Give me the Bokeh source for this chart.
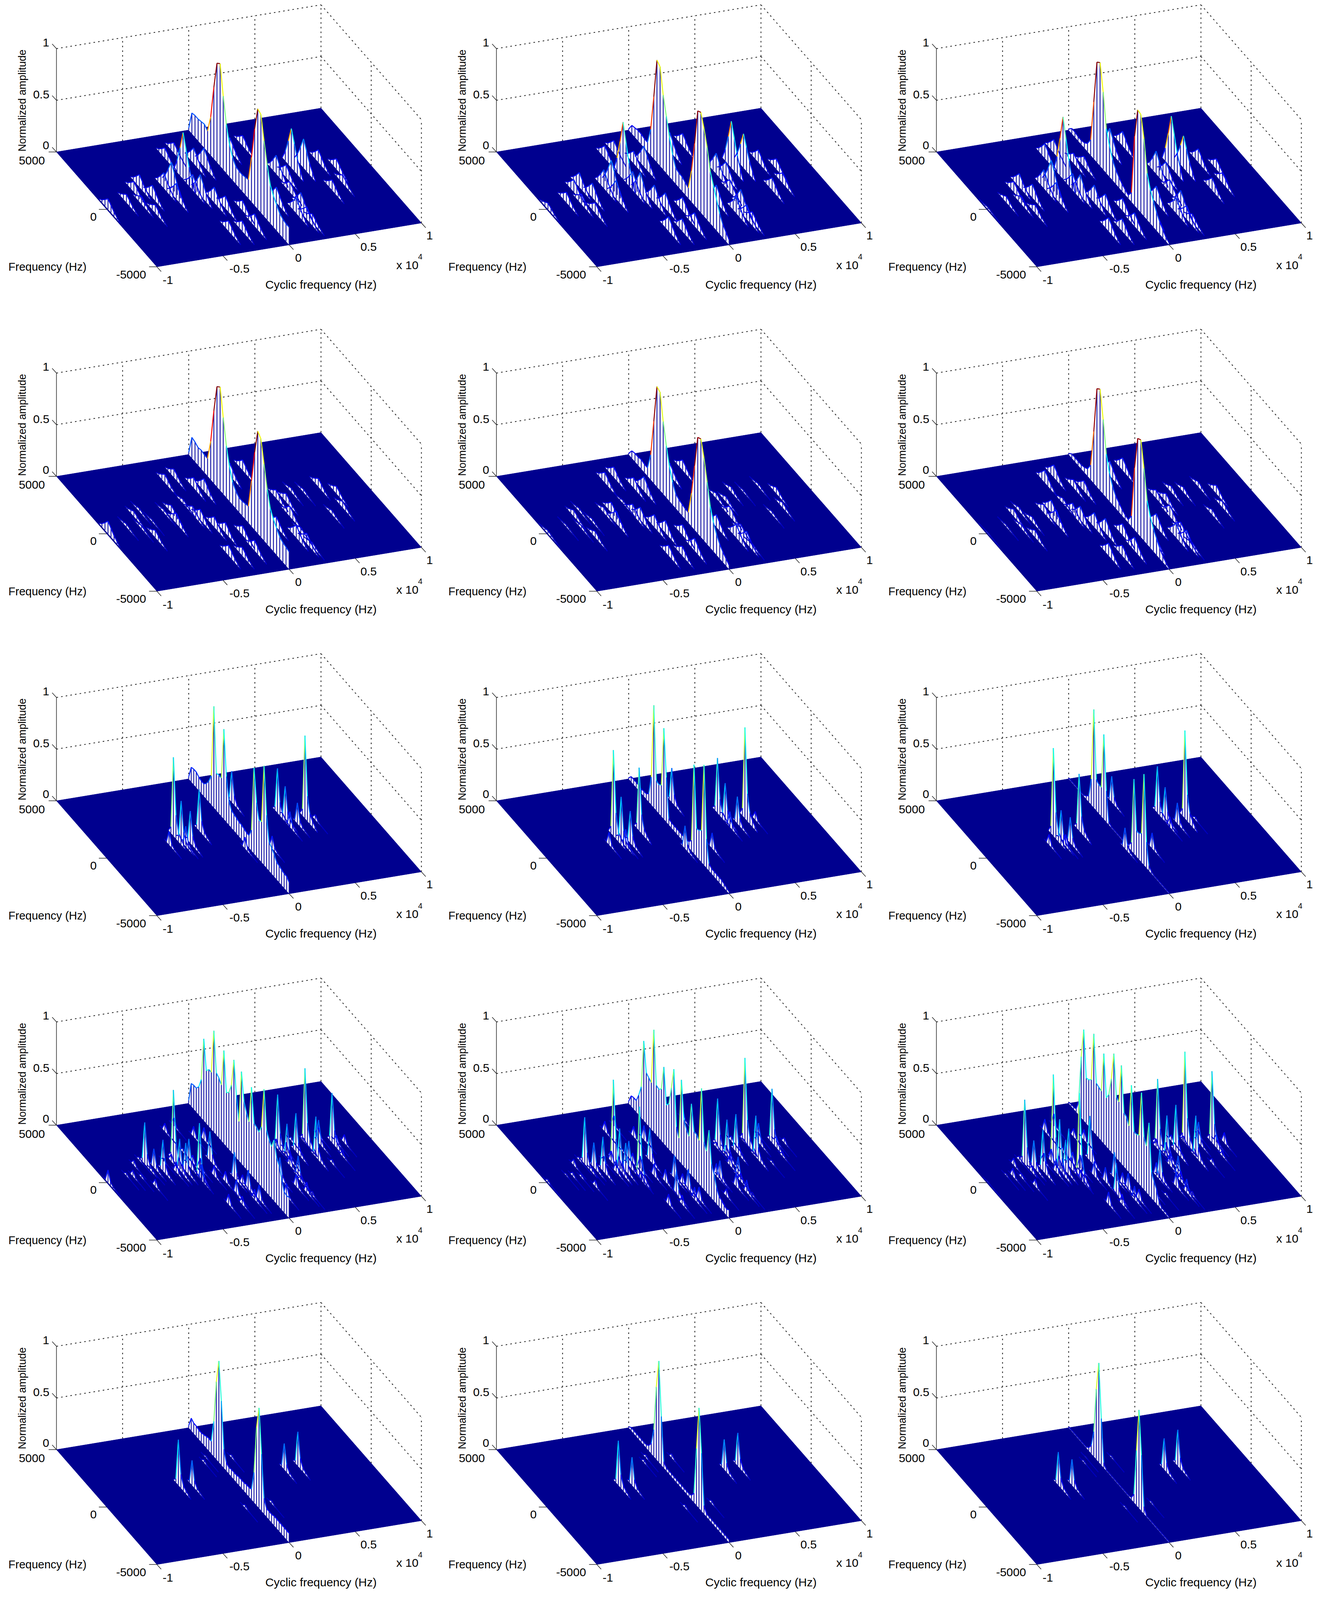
import numpy as np

from bokeh.core.properties import value
from bokeh.embed import file_html
from bokeh.models import Range1d
from bokeh.plotting import figure
from bokeh.resources import INLINE

# tick labels
z_ticks = [0, 0.5, 1]
z_labels = ["0", "0.5", "1"]
f_ticks = [5000, 0, -5000]
f_labels = ["5000", "0", "-5000"]
alpha_ticks = [-1, -0.5, 0, 0.5, 1]
alpha_labels = ["-1", "-0.5", "0", "0.5", "1"]

# amplitude along the alpha = 0 ridge, from f = 5000 down to f = -5000
ridge_r0c0 = [.02,.2,.21,.21,.22,.23,.2,.37,.69,.96,.99,.71,.47,.31,.22,.17,.16,.16,.17,.18,.43,.74,.97,.95,.73,.53,.37,.3,.25,.2,.18,.17,.17]
ridge_r0c1 = [.01,.08,.09,.1,.1,.09,.09,.25,.6,.99,.96,.72,.55,.38,.25,.155,.14,.14,.12,.1,.3,.6,.95,.97,.85,.7,.5,.4,.3,.2,.13,.09,.05]
ridge_r0c2 = [.01,.05,.05,.04,.04,.05,.08,.15,.55,.97,1.0,.75,.43,.3,.2,.14,.1,.07,.05,.03,.09,.67,.96,.95,.75,.45,.33,.25,.18,.12,.08,.04,.02]
ridge_r1c0 = [.02,.2,.19,.17,.18,.17,.17,.37,.7,.97,1.0,.74,.5,.33,.22,.17,.14,.14,.15,.16,.44,.75,.99,.95,.74,.53,.38,.31,.26,.21,.19,.18,.17]
ridge_r1c1 = [.01,.07,.08,.08,.09,.08,.08,.24,.6,.97,.95,.7,.5,.33,.22,.14,.12,.11,.1,.1,.32,.62,.93,.95,.8,.6,.4,.28,.2,.14,.1,.07,.04]
ridge_r1c2 = [.01,.04,.04,.04,.04,.05,.07,.14,.5,.95,.98,.72,.42,.27,.18,.12,.09,.06,.04,.03,.1,.6,.92,.94,.7,.42,.3,.22,.16,.1,.06,.03,.01]
ridge_r2c0 = [.02,.14,.15,.15,.13,.12,.12,.15,.2,.28,.98,.36,.37,.37,.87,.44,.24,.17,.16,.15,.14,.14,.13,.12,.12,.2,.83,.52,.38,.39,.96,.51,.28,.25,.22,.17,.16,.15,.14,.14,.11]
ridge_r2c1 = [.01,.05,.05,.05,.05,.04,.05,.05,.08,.27,.99,.29,.28,.3,.88,.43,.06,.05,.05,.05,.05,.05,.05,.05,.06,.1,.86,.27,.28,.31,.97,.28,.07,.05,.05,.05,.05,.05,.04,.03,.02]
ridge_r2c2 = [.01,.01,.01,.01,.01,.01,.01,.03,.06,.25,.95,.3,.28,.28,.82,.3,.03,.01,.01,.01,.01,.01,.01,.02,.03,.08,.72,.25,.25,.28,.88,.25,.05,.02,.01,.01,.01,.01,.01,.01,.01]
ridge_r3c0 = [.03,.22,.23,.23,.27,.37,.79,.51,.55,.55,.98,.6,.58,.54,.9,.52,.55,.65,.92,.6,.38,.89,.63,.55,.49,.85,.53,.52,.5,.58,.97,.6,.54,.5,.59,.45,.4,.3,.2,.19,.2]
ridge_r3c1 = [.02,.1,.11,.11,.19,.3,.77,.49,.47,.45,.99,.48,.47,.5,.74,.4,.44,.62,.83,.3,.22,.81,.45,.39,.35,.69,.45,.45,.42,.95,.46,.4,.63,.33,.26,.16,.1,.09,.07,.06,.08]
ridge_r3c2 = [.01,.02,.02,.03,.13,.59,.88,.44,.45,.48,.95,.5,.49,.48,.87,.47,.53,.71,.98,.59,.57,.95,.52,.51,.45,.87,.45,.45,.47,.91,.51,.45,.7,.25,.19,.14,.05,.02,.02,.02,.01]
ridge_r4c0 = [.02,.12,.1,.1,.09,.09,.1,.11,.12,.12,.34,.75,.98,.62,.18,.08,.06,.07,.07,.07,.08,.08,.08,.09,.09,.1,.29,.75,.97,.55,.15,.08,.08,.08,.09,.09,.09,.09,.09,.09,.09]
ridge_r4c1 = [.01,.03,.03,.03,.03,.03,.03,.03,.05,.1,.26,.7,.98,.47,.06,.03,.03,.03,.03,.03,.03,.03,.03,.03,.03,.04,.09,.55,.97,.56,.08,.03,.03,.03,.03,.03,.03,.03,.03,.03,.03]
ridge_r4c2 = [.01,.01,.01,.01,.01,.01,.01,.01,.03,.08,.24,.68,.96,.45,.05,.01,.01,.01,.01,.01,.01,.01,.01,.01,.01,.02,.08,.53,.95,.54,.07,.01,.01,.01,.01,.01,.01,.01,.01,.01,.01]

# off-ridge peaks of rows 1 and 2
peak_alpha = [-.32,.46,.54,-.23,-.32,.265,.15,-.11,-.16,.67,.75,-.655,-.72,-.5,-.45,-.63,-.83,-.74,-.7,-.3,-.32,-.48,-.25,-.21,-.11,.325,.37,.6,.71,.29,.265,.31,.23,-.32,-.23,-.12,.16,.05,.285,-.99]
peak_f = [1350,840,680,3450,3160,3120,2890,2030,2400,920,170,1290,980,890,810,320,270,-50,-890,-100,390,-80,-840,-1420,-1810,570,180,-1380,-980,-2340,-3260,-990,-2680,-3190,-3360,-3140,-1620,-2700,-3560,0]
peak_r0c0 = [.45,.38,.28,.1,.1,.1,.13,.18,.15,.12,.1,.12,.1,.15,.25,.12,.08,.08,.08,.2,.15,.15,.15,.12,.1,.18,.12,.1,.08,.15,.12,.1,.15,.1,.1,.12,.15,.12,.08,.1]
peak_r0c1 = [.55,.45,.33,.12,.12,.12,.18,.2,.12,.12,.1,.14,.12,.18,.27,.14,.1,.1,.1,.22,.18,.18,.17,.15,.13,.2,.15,.12,.1,.18,.14,.12,.16,.14,.12,.13,.17,.14,.1,.06]
peak_r0c2 = [.6,.5,.31,.13,.14,.14,.22,.1,.1,.13,.1,.13,.1,.18,.27,.13,.06,.08,.08,.2,.16,.16,.17,.14,.12,.22,.15,.12,.1,.17,.13,.12,.15,.13,.12,.13,.16,.14,.08,.02]
peak_r1c0 = [.04,.04,.03,.08,.08,.1,.12,.12,.1,.08,.07,.03,.05,.03,.07,.02,.03,.03,.07,.1,.08,.1,.1,.1,.09,.08,.08,.04,.06,.05,.1,.1,.12,.1,.08,.1,.1,.1,.04,.12]
peak_r1c1 = [.03,.05,.02,.1,.1,.1,.12,.14,.1,.03,.06,.03,.06,.05,.1,.03,.02,.03,.06,.12,.1,.12,.12,.12,.1,.05,.05,.03,.05,.08,.12,.1,.13,.1,.09,.12,.12,.12,.03,.03]
peak_r1c2 = [.05,.06,.05,.12,.12,.12,.14,.1,.08,.05,.08,.04,.07,.08,.12,.05,.02,.04,.07,.13,.11,.13,.14,.14,.11,.08,.08,.05,.06,.1,.13,.11,.14,.12,.1,.13,.13,.13,.04,.01]

# sharp lines of row 3
line3_alpha = [-.43,-.41,-.36,-.23,.15,-.03,.39,.41,.46,.54,.15,-.4,.39,-.51,.6]
line3_f = [860,350,100,930,2690,-1000,1300,790,240,540,-1330,30,60,240,300]
line_r2c0 = [.76,.39,.31,.4,.3,.11,.43,.31,.2,.8,.12,.18,.15,.13,.05]
line_r2c1 = [.83,.43,.31,.61,.33,.22,.53,.34,.26,.88,.15,.15,.15,.12,.08]
line_r2c2 = [.85,.3,.25,.55,.25,.2,.45,.3,.2,.85,.15,.1,.1,.1,.03]

# sharp lines of row 4
line4_alpha = [-.64,-.43,-.56,-.6,-.45,-.36,-.36,-.19,-.21,.43,.54,.34,.34,.53,.72,.63,.8,-.1,.3,.17,-.09,-.41,.11,-.79,-.13,-.36]
line4_f = [950,860,190,570,-30,250,-810,390,-2510,-10,540,620,-310,-680,210,370,40,-2240,-1940,-1840,-3190,-100,-3280,150,-1260,-980]
line_r3c0 = [.4,.68,.3,.18,.31,.26,.53,.28,.14,.37,.72,.5,.32,.39,.48,.22,.08,.18,.2,.2,.14,.27,.12,.06,.25,.15]
line_r3c1 = [.45,.78,.33,.24,.41,.24,.69,.31,.22,.36,.82,.46,.36,.4,.52,.19,.05,.19,.19,.17,.12,.27,.07,.04,.22,.08]
line_r3c2 = [.62,.83,.4,.26,.5,.36,.82,.43,.3,.45,.88,.65,.4,.4,.69,.2,.1,.15,.2,.28,.1,.3,.03,.08,.25,.1]

# row 5
line5_alpha = [-.4,-.31,.39,.5,-.1,.11,-.09,.11,-.06]
line5_f = [760,590,630,720,2150,2160,-1810,-1810,2500]
line_r4c0 = [.44,.24,.25,.33,.03,.03,.03,.03,.02]
line_r4c1 = [.43,.27,.29,.32,.03,.04,.03,.03,.03]
line_r4c2 = [.32,.25,.3,.35,.02,.02,.02,.02,.01]

# peak shapes: offset from the top in Hz, share of the height
wide_shape = ([900, 600, 300, 0, -300, -600, -900, -1200], [0, .25, .6, 1, .7, .4, .2, 0])
sharp_shape = ([500, 250, 0, -250, -500, -750, -1000, -1250], [0, .08, 1, .3, .12, .07, .04, 0])

NAVY = "#00008F"
STRIPE = "#1A1AA8"
PAGE_W = 3375
PAGE_H = 5375
DRAWN_H = 4073          # the picture comes back about 4096 tall, so the y range is squeezed into this
PANEL_W = 1126
PANEL_H = 1096
AX, AY = 338.5, -74.0   # one unit of alpha
FX, FY = 257.0, 388.0   # the whole frequency span
ZH = 349.0


def make_project(ox, oy):
    # alpha = -1, f = 5000, z = 0 sits at (ox + 144, oy + 512.7)
    def project(alpha, f, z):
        t = (5000 - f) / 10000
        return ox + 144 + (alpha + 1) * AX + t * FX, oy + 512.7 + (alpha + 1) * AY + t * FY - z * ZH
    return project


def jet(v):
    v = min(max(v, 0), 1)
    r = min(max(min(4 * v - 1.5, -4 * v + 4.5), 0), 1)
    g = min(max(min(4 * v - 0.5, -4 * v + 3.5), 0), 1)
    b = min(max(min(4 * v + 0.5, -4 * v + 2.5), 0), 1)
    return "#%02x%02x%02x" % (int(r * 255), int(g * 255), int(b * 255))


def edge_color(z0, z1, sharp):
    hi = max(z0, z1)
    if hi < 0.3:
        return jet(0.06 + 0.7 * hi)
    if z1 > z0:  # going up towards the viewer
        return jet(0.2 + 0.4 * hi) if sharp else jet(0.55 + 0.45 * hi)
    return jet(0.12 + 0.3 * hi) if sharp else jet(0.2 + 0.42 * hi)


def new_sheet():
    return dict(px=[], py=[], sx=[], sy=[], tx=[], ty=[], tc=[])


def add_profile(sheet, project, alpha, fs, zs, sharp):
    top = [project(alpha, f, z) for f, z in zip(fs, zs)]
    base = [project(alpha, f, 0) for f in fs]
    sheet["px"].append([q[0] for q in top] + [q[0] for q in base[::-1]])
    sheet["py"].append([q[1] for q in top] + [q[1] for q in base[::-1]])
    for a, b, z in zip(top, base, zs):
        if z > 0:
            sheet["sx"].append([b[0], a[0]])
            sheet["sy"].append([b[1], a[1]])
    for i in range(len(fs) - 1):
        sheet["tx"].append([top[i][0], top[i + 1][0]])
        sheet["ty"].append([top[i][1], top[i + 1][1]])
        sheet["tc"].append(edge_color(zs[i], zs[i + 1], sharp))


def draw_sheet(p, sheet):
    if not sheet["px"]:
        return
    p.patches(sheet["px"], sheet["py"], fill_color="white", line_color=None)
    p.multi_line(sheet["sx"], sheet["sy"], line_color=STRIPE, line_width=2.4)
    p.multi_line(sheet["tx"], sheet["ty"], line_color=sheet["tc"], line_width=2.5)


def dotted(p, a, b):
    p.line([a[0], b[0]], [a[1], b[1]], line_color="#222222", line_width=2, line_dash="4 8")


def draw_box(p, project):
    for z in [0.5, 1]:
        dotted(p, project(-1, 5000, z), project(1, 5000, z))
        dotted(p, project(1, 5000, z), project(1, -5000, z))
    for a in [-0.5, 0, 0.5, 1]:
        dotted(p, project(a, 5000, 0), project(a, 5000, 1))
    for f in [0, -5000]:
        dotted(p, project(1, f, 0), project(1, f, 1))
    corners = [project(-1, 5000, 0), project(1, 5000, 0), project(1, -5000, 0), project(-1, -5000, 0)]
    p.patch([q[0] for q in corners], [q[1] for q in corners], fill_color=NAVY, line_color=NAVY)


def label(p, x, y, text, size, angle=0.0):
    p.text([x], [y], text=[text], text_font=value("Liberation Sans"), text_font_size=size, angle=angle,
           text_align="center", text_baseline="middle", text_color="black")


def draw_axes(p, project, ox, oy):
    a, b = project(-1, 5000, 0), project(-1, 5000, 1)
    p.line([a[0], b[0]], [a[1], b[1]], line_color="#222222", line_width=1.5)
    xs, ys = [], []
    off = {0: (-27, -22), 0.5: (-39, -19), 1: (-27, -21)}
    for z, s in zip(z_ticks, z_labels):
        q = project(-1, 5000, z)
        xs.append([q[0] - 11, q[0]])
        ys.append([q[1] - 16, q[1]])
        label(p, q[0] + off[z][0], q[1] + off[z][1], s, "30px")
    off = {5000: (-63, 29), 0: (-34, 25), -5000: (-66, 26)}
    for f, s in zip(f_ticks, f_labels):
        q = project(-1, f, 0)
        xs.append([q[0] - 20, q[0]])
        ys.append([q[1], q[1]])
        label(p, q[0] + off[f][0], q[1] + off[f][1], s, "30px")
    off = {-1: (28, 45), -0.5: (42, 44), 0: (23.5, 43), 0.5: (34, 44), 1: (21, 43)}
    for al, s in zip(alpha_ticks, alpha_labels):
        q = project(al, -5000, 0)
        xs.append([q[0], q[0] + 11])
        ys.append([q[1], q[1] + 16])
        label(p, q[0] + off[al][0], q[1] + off[al][1], s, "30px")
    p.multi_line(xs, ys, line_color="#222222", line_width=1.5)
    label(p, ox + 121, oy + 901, "Frequency (Hz)", "29px")
    label(p, ox + 821, oy + 961, "Cyclic frequency (Hz)", "30px")
    label(p, ox + 56, oy + 339, "Normalized amplitude", "27px", np.pi / 2)
    label(p, ox + 1042, oy + 895, "x 10", "30px")
    label(p, ox + 1075, oy + 867, "4", "20px")


def draw_panel(p, ox, oy, ridge, groups, sharp_ridge):
    project = make_project(ox, oy)
    draw_box(p, project)

    behind, front = new_sheet(), new_sheet()
    peaks = []
    for alphas, fs, hs, sharp in groups:
        for al, f, h in zip(alphas, fs, hs):
            peaks.append((project(al, f, 0)[1], al, f, h, sharp))
    for _, al, f, h, sharp in sorted(peaks, key=lambda q: q[0]):
        offs, rel = sharp_shape if sharp else wide_shape
        sheet = behind if al > 0 else front
        add_profile(sheet, project, al, [f + o for o in offs], [h * r for r in rel], sharp)

    curtain = new_sheet()
    add_profile(curtain, project, 0, np.linspace(5000, -5000, len(ridge)).tolist(), ridge, sharp_ridge)

    draw_sheet(p, behind)
    draw_sheet(p, curtain)
    draw_sheet(p, front)
    draw_axes(p, project, ox, oy)


rows = [
    [(ridge_r0c0, [(peak_alpha, peak_f, peak_r0c0, False)]),
     (ridge_r0c1, [(peak_alpha, peak_f, peak_r0c1, False)]),
     (ridge_r0c2, [(peak_alpha, peak_f, peak_r0c2, False)])],
    [(ridge_r1c0, [(peak_alpha, peak_f, peak_r1c0, False)]),
     (ridge_r1c1, [(peak_alpha, peak_f, peak_r1c1, False)]),
     (ridge_r1c2, [(peak_alpha, peak_f, peak_r1c2, False)])],
    [(ridge_r2c0, [(line3_alpha, line3_f, line_r2c0, True)]),
     (ridge_r2c1, [(line3_alpha, line3_f, line_r2c1, True)]),
     (ridge_r2c2, [(line3_alpha, line3_f, line_r2c2, True)])],
    [(ridge_r3c0, [(line4_alpha, line4_f, line_r3c0, True), (peak_alpha, peak_f, peak_r1c0, True)]),
     (ridge_r3c1, [(line4_alpha, line4_f, line_r3c1, True), (peak_alpha, peak_f, peak_r1c1, True)]),
     (ridge_r3c2, [(line4_alpha, line4_f, line_r3c2, True), (peak_alpha, peak_f, peak_r1c2, True)])],
    [(ridge_r4c0, [(line5_alpha, line5_f, line_r4c0, True)]),
     (ridge_r4c1, [(line5_alpha, line5_f, line_r4c1, True)]),
     (ridge_r4c2, [(line5_alpha, line5_f, line_r4c2, True)])],
]

p = figure(width=PAGE_W, height=DRAWN_H, x_range=Range1d(0, PAGE_W), y_range=Range1d(PAGE_H, 0),
           x_axis_location=None, y_axis_location=None, toolbar_location=None, tools="",
           output_backend="svg", min_border=0, outline_line_color=None)
p.grid.visible = False

for i, cells in enumerate(rows):
    for j, (ridge, groups) in enumerate(cells):
        draw_panel(p, j * PANEL_W, i * PANEL_H, ridge, groups, i >= 2)

open("out.html", "w").write(file_html(p, INLINE))
